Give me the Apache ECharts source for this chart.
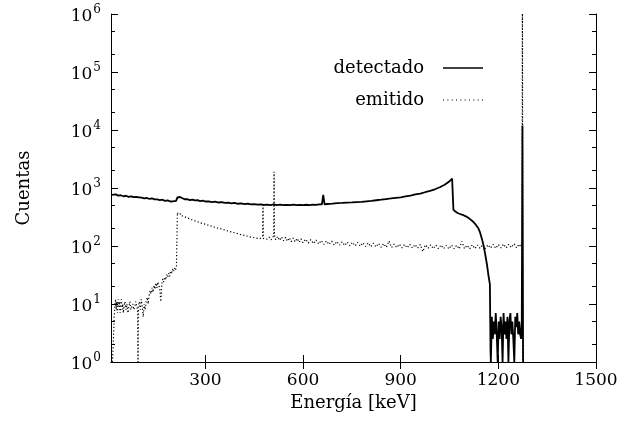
<!DOCTYPE html>
<html>
<head>
<meta charset="utf-8">
<script src="https://cdn.jsdelivr.net/npm/echarts@6/dist/echarts.min.js"></script>
<style>
  html, body { margin: 0; padding: 0; background: #fff; }
  #chart { width: 630px; height: 421px; }
</style>
</head>
<body>
<div id="chart"></div>
<script>
// ---- Data ----
const xTicks = [300, 600, 900, 1200, 1500];
const xMin = 10, xMax = 1500;
const yMin = 1, yMax = 1000000;

const detEnergia = [12, 18, 25, 32, 40, 48, 56, 64, 72, 80, 88, 96, 104, 112, 120, 128, 136, 144, 152, 160, 168, 176, 184, 192, 200, 206, 210, 214, 218, 222, 228, 236, 244, 252, 260, 268, 276, 284, 292, 300, 310, 320, 330, 340, 350, 360, 370, 380, 390, 400, 410, 420, 430, 440, 450, 460, 470, 480, 490, 500, 510, 520, 530, 540, 550, 560, 570, 580, 590, 600, 610, 620, 630, 640, 650, 658, 662, 666, 675, 690, 705, 720, 735, 750, 765, 780, 795, 810, 825, 840, 855, 870, 885, 900, 915, 930, 945, 960, 975, 990, 1005, 1020, 1035, 1048, 1058, 1060, 1062, 1066, 1072, 1080, 1090, 1100, 1110, 1120, 1130, 1138, 1144, 1150, 1155, 1160, 1165, 1170, 1174, 1176, 1177, 1180, 1183, 1186, 1189, 1192, 1195, 1198, 1201, 1204, 1207, 1210, 1213, 1216, 1219, 1222, 1225, 1228, 1231, 1234, 1237, 1240, 1243, 1246, 1249, 1252, 1255, 1258, 1261, 1264, 1267, 1270, 1272, 1274, 1276];
const detCuentas = [760, 735, 775, 740, 750, 720, 735, 705, 720, 695, 700, 690, 680, 665, 672, 650, 660, 638, 635, 620, 628, 600, 610, 585, 590, 565, 600, 690, 725, 700, 660, 640, 645, 620, 632, 610, 618, 595, 605, 585, 590, 572, 580, 562, 570, 552, 560, 545, 552, 535, 542, 528, 536, 520, 528, 515, 522, 512, 518, 508, 520, 508, 515, 505, 512, 505, 515, 505, 512, 505, 514, 508, 518, 512, 522, 520, 760, 525, 530, 538, 548, 552, 560, 563, 572, 578, 590, 598, 615, 628, 645, 660, 678, 692, 718, 742, 775, 800, 845, 890, 950, 1030, 1140, 1280, 1450, 1400, 420, 392, 378, 360, 345, 325, 300, 270, 235, 205, 170, 130, 100, 70, 48, 30, 22, 1.5, 1, 6, 2.5, 5, 3, 7, 3, 1, 5, 2.5, 6, 4, 1, 7, 3, 5, 2.5, 6, 1, 5, 7, 3, 5, 2.5, 1, 6, 4, 7, 3, 5, 3, 2.5, 5, 12000, 1];

const emiEnergia = [14, 16, 18, 20, 22, 24, 26, 28, 30, 32, 34, 36, 38, 40, 42, 44, 46, 48, 50, 53, 56, 59, 62, 65, 68, 71, 74, 77, 80, 83, 86, 89, 92, 93, 94, 97, 100, 103, 106, 109, 112, 115, 118, 121, 124, 127, 130, 133, 136, 139, 142, 145, 148, 151, 154, 157, 160, 163, 166, 169, 172, 175, 178, 181, 184, 187, 190, 193, 196, 199, 202, 205, 208, 211, 213, 214, 217, 220, 223, 226, 229, 232, 236, 240, 244, 248, 252, 256, 260, 265, 270, 275, 280, 285, 290, 295, 300, 306, 312, 318, 324, 330, 336, 342, 348, 354, 360, 366, 372, 378, 384, 390, 396, 402, 408, 414, 420, 426, 432, 438, 444, 450, 456, 462, 468, 474, 476, 477, 478, 484, 490, 496, 502, 508, 510, 511, 512, 516, 522, 528, 534, 540, 546, 552, 558, 564, 570, 576, 582, 588, 594, 600, 608, 616, 624, 632, 640, 648, 656, 664, 672, 680, 688, 696, 704, 712, 720, 728, 736, 744, 752, 760, 768, 776, 784, 792, 800, 808, 816, 824, 832, 840, 848, 856, 864, 872, 880, 888, 896, 904, 912, 920, 928, 936, 944, 952, 960, 968, 976, 984, 992, 1000, 1008, 1016, 1024, 1032, 1040, 1048, 1056, 1064, 1072, 1080, 1088, 1096, 1104, 1112, 1120, 1128, 1136, 1144, 1152, 1160, 1168, 1176, 1184, 1192, 1200, 1208, 1216, 1224, 1232, 1240, 1248, 1256, 1264, 1270, 1273, 1274, 1275];
const emiCuentas = [1, 1.5, 3, 6, 9, 12, 8, 11, 7, 12, 9, 11, 7, 10, 12, 8, 10, 7, 9, 11, 8, 10, 7, 9, 11, 8, 9, 10, 8, 9, 11, 9, 8, 1, 9, 11, 8, 12, 9, 6, 10, 8, 11, 13, 10, 14, 17, 15, 19, 16, 21, 18, 23, 19, 24, 21, 18, 11, 22, 27, 24, 29, 26, 32, 29, 34, 30, 37, 33, 40, 36, 42, 38, 45, 43, 380, 350, 375, 340, 360, 330, 350, 320, 335, 305, 320, 295, 305, 280, 290, 268, 278, 258, 265, 245, 255, 238, 246, 225, 235, 215, 222, 205, 214, 198, 205, 188, 196, 180, 188, 172, 181, 166, 175, 158, 168, 152, 161, 146, 156, 141, 151, 137, 147, 134, 144, 150, 510, 135, 145, 131, 142, 128, 138, 150, 1900, 155, 128, 146, 125, 143, 123, 141, 121, 139, 119, 137, 118, 135, 116, 133, 114, 131, 112, 129, 110, 127, 108, 125, 107, 123, 106, 121, 104, 120, 103, 118, 102, 117, 101, 116, 100, 115, 99, 114, 98, 113, 97, 112, 96, 111, 95, 110, 95, 122, 94, 108, 94, 108, 93, 107, 93, 107, 92, 106, 92, 106, 80, 105, 91, 105, 90, 104, 90, 104, 90, 103, 89, 104, 90, 103, 89, 120, 90, 103, 89, 105, 90, 104, 91, 106, 90, 105, 92, 107, 91, 106, 93, 108, 92, 107, 94, 110, 93, 108, 96, 112, 3000000, 1];

// ---- Chart ----
const serif = '"DejaVu Serif", "Liberation Serif", serif';
const zip = (xs, ys) => xs.map((x, i) => [x, ys[i]]);
const minorLog = [];
for (let d = 0; d < 6; d++) { minorLog.push(d + Math.log10(2), d + Math.log10(5)); }

const chart = echarts.init(document.getElementById('chart'), null, { renderer: 'canvas' });
const axisLineStyle = { show: true, lineStyle: { color: '#000', width: 1 } };

chart.setOption({
  animation: false,
  backgroundColor: '#fff',
  grid: { left: 111, right: 34, top: 14, bottom: 59, containLabel: false },
  legend: {
    orient: 'vertical',
    right: 142,
    top: 54,
    align: 'right',
    itemWidth: 40,
    itemHeight: 14,
    itemGap: 14,
    textStyle: { fontFamily: serif, fontSize: 18, color: '#000', padding: [0, 14, 0, 0] },
    data: [
      { name: 'detectado', icon: 'path://M0,0L40,0L40,1.4L0,1.4Z', itemStyle: { color: '#000' } },
      { name: 'emitido', icon: 'path://M0,0L1,0L1,1L0,1ZM4,0L5,0L5,1L4,1ZM8,0L9,0L9,1L8,1ZM12,0L13,0L13,1L12,1ZM16,0L17,0L17,1L16,1ZM20,0L21,0L21,1L20,1ZM24,0L25,0L25,1L24,1ZM28,0L29,0L29,1L28,1ZM32,0L33,0L33,1L32,1ZM36,0L37,0L37,1L36,1Z', itemStyle: { color: '#000' } }
    ]
  },
  xAxis: [
    {
      type: 'value', position: 'bottom', min: xMin, max: xMax,
      axisLine: axisLineStyle,
      axisTick: { show: true, inside: true, length: 7, customValues: xTicks, lineStyle: { color: '#000' } },
      axisLabel: { customValues: xTicks, formatter: v => String(v), margin: 10, fontFamily: serif, fontSize: 17, color: '#000' },
      splitLine: { show: false },
      name: 'Energía [keV]', nameLocation: 'middle', nameGap: 31,
      nameTextStyle: { fontFamily: serif, fontSize: 18, color: '#000' }
    },
    {
      type: 'value', position: 'top', min: xMin, max: xMax,
      axisLine: axisLineStyle,
      axisTick: { show: true, inside: true, length: 7, customValues: xTicks, lineStyle: { color: '#000' } },
      axisLabel: { show: false },
      splitLine: { show: false }
    }
  ],
  yAxis: [
    {
      type: 'log', logBase: 10, position: 'left', min: yMin, max: yMax, splitNumber: 6,
      axisLine: axisLineStyle,
      axisTick: { show: true, inside: true, length: 7, lineStyle: { color: '#000' } },
      axisLabel: {
        margin: 10, color: '#000',
        formatter: v => '{b|10}{s|' + Math.round(Math.log10(v)) + '}',
        rich: {
          b: { fontFamily: serif, fontSize: 17, color: '#000', verticalAlign: 'bottom', lineHeight: 22 },
          s: { fontFamily: serif, fontSize: 12, color: '#000', verticalAlign: 'bottom', lineHeight: 22, padding: [0, 0, 9, 1] }
        }
      },
      splitLine: { show: false },
      name: 'Cuentas', nameLocation: 'middle', nameGap: 78, nameRotate: 90,
      nameTextStyle: { fontFamily: serif, fontSize: 18, color: '#000' }
    },
    {
      type: 'log', logBase: 10, position: 'right', min: yMin, max: yMax, splitNumber: 6,
      axisLine: axisLineStyle,
      axisTick: { show: true, inside: true, length: 7, lineStyle: { color: '#000' } },
      axisLabel: { show: false },
      splitLine: { show: false }
    },
    {
      type: 'value', position: 'left', min: 0, max: 6,
      axisLine: { show: false },
      axisTick: { show: true, inside: true, length: 4, customValues: minorLog, lineStyle: { color: '#000' } },
      axisLabel: { show: false },
      splitLine: { show: false }
    },
    {
      type: 'value', position: 'right', min: 0, max: 6,
      axisLine: { show: false },
      axisTick: { show: true, inside: true, length: 4, customValues: minorLog, lineStyle: { color: '#000' } },
      axisLabel: { show: false },
      splitLine: { show: false }
    }
  ],
  series: [
    {
      name: 'detectado', type: 'line', xAxisIndex: 0, yAxisIndex: 0,
      data: zip(detEnergia, detCuentas),
      symbol: 'none', clip: true,
      lineStyle: { color: '#000', width: 1.8 },
      itemStyle: { color: '#000' }
    },
    {
      name: 'emitido', type: 'line', xAxisIndex: 0, yAxisIndex: 0,
      data: zip(emiEnergia, emiCuentas),
      symbol: 'none', clip: true,
      lineStyle: { color: '#000', width: 1.2, type: [1.2, 2.2] },
      itemStyle: { color: '#000' }
    }
  ]
});
</script>
</body>
</html>
